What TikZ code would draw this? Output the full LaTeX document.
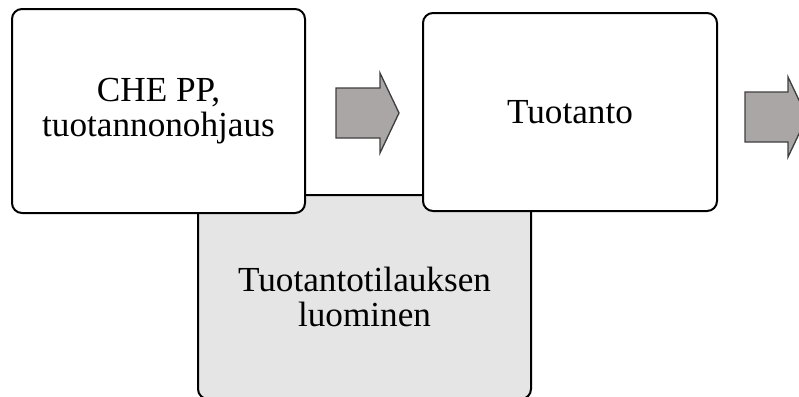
\documentclass[tikz,border=0pt]{standalone}
\usepackage{fontspec}
\setmainfont{Liberation Serif}
\usepackage{tikz}

\definecolor{stepgray}{HTML}{E5E5E5}
\definecolor{arrowfill}{HTML}{ABA6A6}
\definecolor{arrowline}{HTML}{3F3F3F}

\begin{document}
\begin{tikzpicture}[x=0.75pt,y=-0.75pt,
    stepbox/.style={rectangle,rounded corners=7.5pt,draw=black,line width=1.5pt,
        fill=white,align=center,inner sep=0pt,
        font=\fontsize{26.4}{26.5}\selectfont},
    blockarrow/.style={draw=arrowline,fill=arrowfill,line width=1pt,line join=miter}]

    \useasboundingbox (0,0) rectangle (799,396);

    % gray step lies behind the two white steps
    \node[stepbox,fill=stepgray,minimum width=249.75pt,minimum height=153pt]
        (order) at (364.5,297) {Tuotantotilauksen\\luominen};

    \node[stepbox,minimum width=219.75pt,minimum height=153pt]
        (control) at (158.5,111) {CHE PP,\\tuotannonohjaus};

    \node[stepbox,minimum width=220.5pt,minimum height=148.5pt]
        (production) at (570,112) {Tuotanto};

    \draw[blockarrow] (336,88) -- (380,88) -- (380,73) -- (399,113)
        -- (380,153) -- (380,138) -- (336,138) -- cycle;

    \draw[blockarrow] (745,92) -- (788,92) -- (788,77) -- (807,117)
        -- (788,157) -- (788,142) -- (745,142) -- cycle;

\end{tikzpicture}
\end{document}
